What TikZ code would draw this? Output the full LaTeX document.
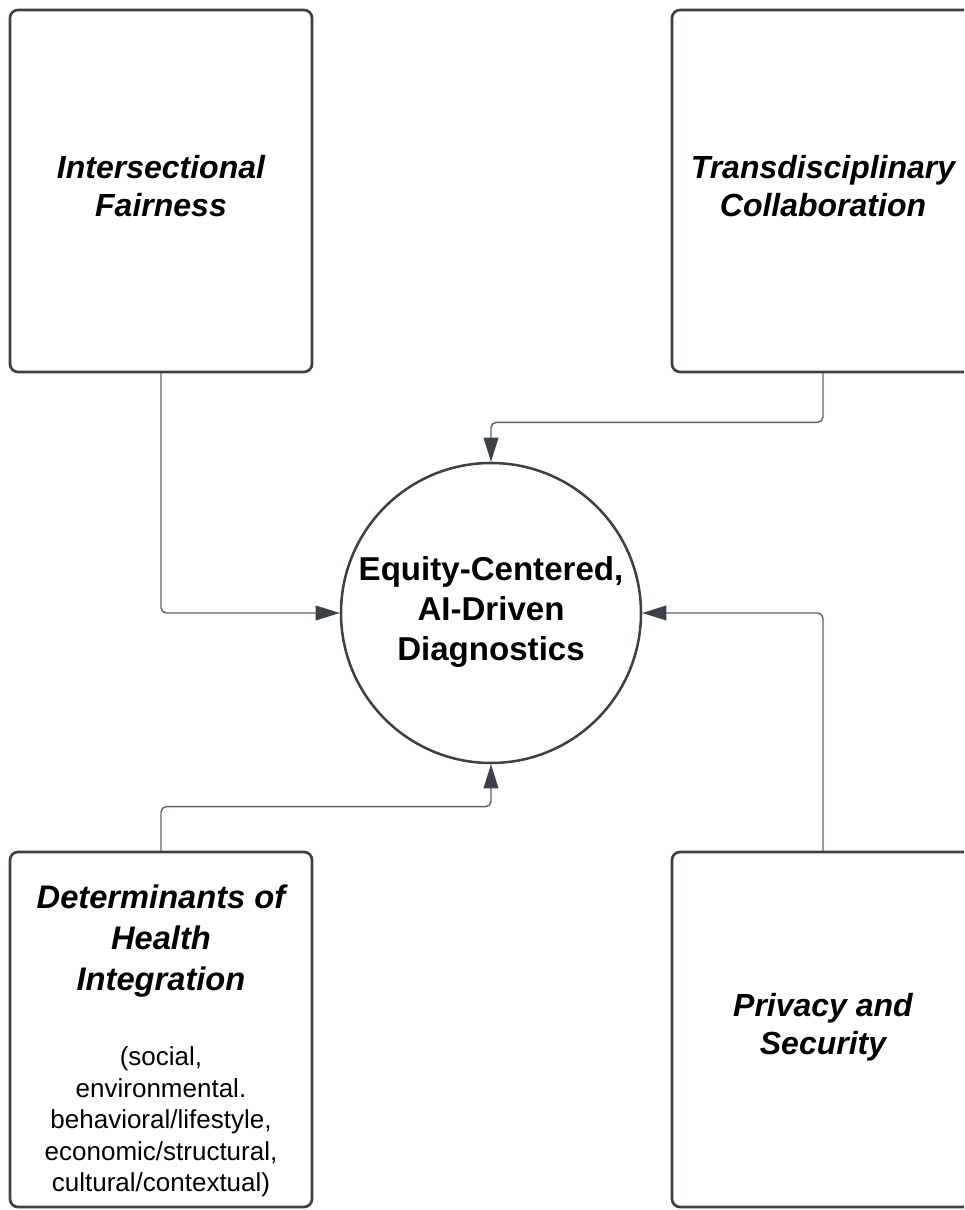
\documentclass[tikz,border=0pt]{standalone}
\usepackage{fontspec}
\setmainfont{Liberation Sans}
\usetikzlibrary{arrows.meta}
\definecolor{edgegray}{HTML}{3B4049}
\definecolor{linkgray}{HTML}{5E646D}
\begin{document}
\begin{tikzpicture}[line cap=round,line join=round,x=.75pt,y=.75pt,
		pillar/.style={draw=edgegray,line width=2pt,rounded corners=6pt,minimum width=226.5pt,inner sep=0pt},
		headtext/.style={align=center,font=\fontsize{24}{28.5}\selectfont\bfseries\itshape},
		hub/.style={circle,draw=edgegray,line width=1.9pt,minimum size=225pt,inner sep=0pt,align=center,
			font=\fontsize{24.8}{30}\selectfont\bfseries},
		link/.style={draw=linkgray,line width=1.1pt,rounded corners=4pt,
			-{Triangle[length=18pt,width=11pt,color=edgegray]}}]
		\useasboundingbox (0,0) rectangle (964,1210);
		\clip (0,0) rectangle (964,1210);
		% the four pillars
		\node[pillar,minimum height=271.5pt] (fair) at (161,1019) {};
		\node[pillar,minimum height=271.5pt] (collab) at (823,1019) {};
		\node[pillar,minimum height=266.25pt] (determ) at (161,180.5) {};
		\node[pillar,minimum height=266.25pt] (privacy) at (823,180.5) {};
		\node[headtext] (fairtxt) at (161,1024) {Intersectional\\Fairness};
		\node[headtext] (collabtxt) at (823,1024) {Transdisciplinary\\Collaboration};
		\node[headtext] (privacytxt) at (823,183) {Privacy and\\Security};
		\node[headtext,font=\fontsize{24.5}{30.5}\selectfont\bfseries\itshape] (determtitle) at (161,269) {Determinants of\\Health\\Integration};
		\node[font=\fontsize{19.5}{23.6}\selectfont,align=center] (determnote) at (161,88) {(social,\\environmental.\\behavioral/lifestyle,\\economic/structural,\\cultural/contextual)};
		% centre
		\node[hub] (hub) at (491,597) {Equity-Centered,\\AI-Driven\\Diagnostics\rule[-6pt]{0pt}{0pt}};
		% links
		\draw[link] (fair.south) |- (hub.west);
		\draw[link] (collab.south) -- ++(0,-49) -| (hub.north);
		\draw[link] (determ.north) -- ++(0,44) -| (hub.south);
		\draw[link] (privacy.north) |- (hub.east);
	\end{tikzpicture}
\end{document}
